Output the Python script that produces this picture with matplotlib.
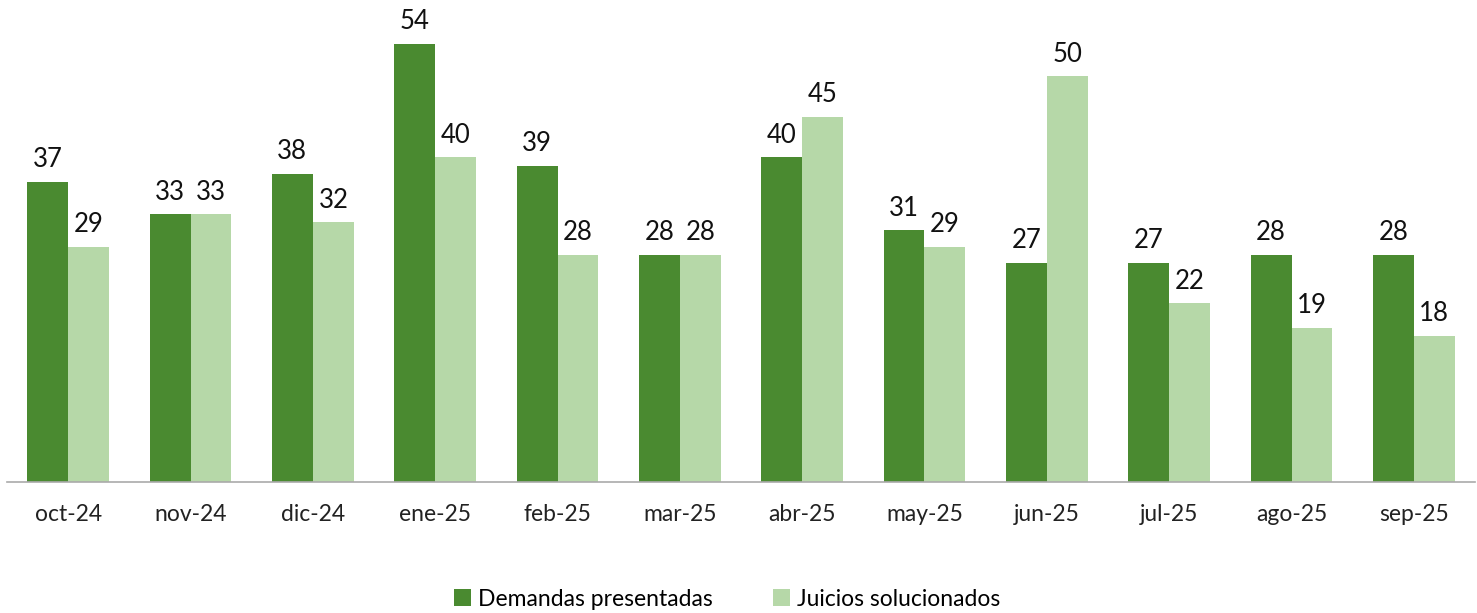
import matplotlib

matplotlib.use("Agg")
import matplotlib.pyplot as plt
import numpy as np

plt.rcParams["font.family"] = ["Lato", "DejaVu Sans"]

meses = ["oct-24", "nov-24", "dic-24", "ene-25", "feb-25", "mar-25",
         "abr-25", "may-25", "jun-25", "jul-25", "ago-25", "sep-25"]
demandas = [37, 33, 38, 54, 39, 28, 40, 31, 27, 27, 28, 28]
juicios = [29, 33, 32, 40, 28, 28, 45, 29, 50, 22, 19, 18]

verde_oscuro = "#4a8a30"
verde_claro = "#b6d8a8"

fig = plt.figure(figsize=(14.77, 6.13), dpi=100)
ax = fig.add_axes([7 / 1477, 131 / 613, 1468 / 1477, 482 / 613])

x = np.arange(len(meses))
w = 0.335
b1 = ax.bar(x - w / 2, demandas, w, color=verde_oscuro, label="Demandas presentadas")
b2 = ax.bar(x + w / 2, juicios, w, color=verde_claro, label="Juicios solucionados")

for bars in (b1, b2):
    ax.bar_label(bars, padding=7, fontsize=18.5, color="#111111")

ax.set_xlim(-0.5, len(meses) - 0.5)
ax.set_ylim(0, 59.4)
ax.set_xticks(x)
ax.set_xticklabels(meses, fontsize=16.5, color="#222222")
ax.tick_params(axis="x", length=0, pad=16)
ax.set_yticks([])
for s in ["top", "right", "left"]:
    ax.spines[s].set_visible(False)
ax.spines["bottom"].set_color("#aaaaaa")
ax.spines["bottom"].set_linewidth(1.2)

fig.legend(handles=[b1, b2], loc="center", bbox_to_anchor=(727 / 1477, 1 - 599 / 613),
           ncol=2, frameon=False, fontsize=16.5, handlelength=0.75, handleheight=0.75,
           handletextpad=0.3, columnspacing=2.6)

fig.savefig("out.png", dpi=100)
plt.close(fig)
